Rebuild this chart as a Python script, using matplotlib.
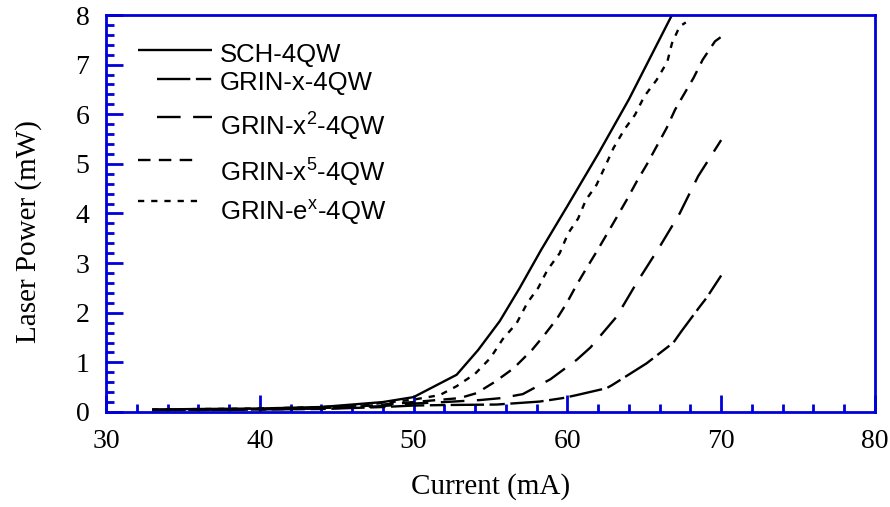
import matplotlib
matplotlib.use("Agg")
import matplotlib.pyplot as plt
from matplotlib.ticker import MultipleLocator

plt.rcParams["lines.scale_dashes"] = False
plt.rcParams["mathtext.fontset"] = "custom"
plt.rcParams["mathtext.rm"] = "Liberation Sans"
plt.rcParams["mathtext.default"] = "regular"

# Light–current characteristics (current in mA, power in mW)
sch_i = [33, 36, 40, 44, 46, 48, 50, 52.8, 54.2, 55.6, 56.9, 58.3, 60, 62, 64, 66.8]
sch_p = [0.05, 0.06, 0.07, 0.1, 0.15, 0.2, 0.3, 0.75, 1.25, 1.83, 2.5, 3.27, 4.15, 5.2, 6.3, 8.0]

grin_x_i = [33, 40, 44, 46, 48, 50, 52, 55.4, 58.2, 59.7, 60.6, 62.55, 62.9, 65.15, 66.9, 67.4, 68.6, 69.05, 70]
grin_x_p = [0.03, 0.05, 0.06, 0.08, 0.1, 0.13, 0.14, 0.15, 0.21, 0.28, 0.34, 0.48, 0.54, 0.98, 1.4, 1.62, 2.12, 2.3, 2.75]

grin_x2_i = [33, 40, 44, 46, 48, 50, 52, 54.3, 55.7, 57.1, 58.9, 60.6, 61.5, 63.2, 64.5, 66, 67.3, 68.5, 70]
grin_x2_p = [0.04, 0.05, 0.07, 0.09, 0.12, 0.17, 0.2, 0.24, 0.28, 0.36, 0.66, 1.05, 1.3, 1.92, 2.6, 3.33, 4.0, 4.75, 5.48]

grin_x5_i = [33, 40, 44, 46, 48, 50, 53, 54.1, 55.3, 56.5, 57.7, 58.5, 59.3, 59.95, 60.6, 61.25, 61.9,
             62.6, 63.2, 63.85, 64.5, 65.15, 65.8, 66.45, 67.0, 67.5, 68.2, 68.8, 69.6, 70]
grin_x5_p = [0.04, 0.06, 0.08, 0.1, 0.15, 0.2, 0.28, 0.38, 0.61, 0.88, 1.25, 1.55, 1.87, 2.19, 2.56, 2.9, 3.23,
             3.6, 3.92, 4.27, 4.64, 4.98, 5.35, 5.72, 6.09, 6.36, 6.73, 7.1, 7.47, 7.56]

grin_ex_i = [33, 40, 44, 46, 48, 50, 51.7, 52.8, 54, 55, 55.8, 56.7, 57.4, 58.1, 58.7, 59.5, 60.05, 60.7,
             61.2, 61.9, 62.5, 63, 63.7, 64.4, 65, 65.8, 66.5, 66.8, 67.3, 67.7]
grin_ex_p = [0.05, 0.07, 0.1, 0.13, 0.18, 0.25, 0.34, 0.52, 0.77, 1.09, 1.47, 1.79, 2.2, 2.5, 2.86, 3.2, 3.6, 3.9,
             4.27, 4.58, 4.98, 5.32, 5.69, 5.99, 6.36, 6.69, 7.06, 7.43, 7.77, 7.85]

labels = ["SCH-4QW", "GRIN-x-4QW", "GRIN-x$^2$-4QW", "GRIN-x$^5$-4QW", "GRIN-e$^x$-4QW"]
x_ticks = [30, 40, 50, 60, 70, 80]
y_ticks = [0, 1, 2, 3, 4, 5, 6, 7, 8]

# dash patterns in points
styles = [
    "-",
    (0, (24, 4, 11, 4)),
    (0, (17, 9)),
    (0, (9, 6)),
    (0, (4.5, 5)),
]
series = [(sch_i, sch_p), (grin_x_i, grin_x_p), (grin_x2_i, grin_x2_p),
          (grin_x5_i, grin_x5_p), (grin_ex_i, grin_ex_p)]

BLUE = "#0000d8"
fig = plt.figure(figsize=(8.9, 5.07), dpi=100)
ax = fig.add_axes([0.1191, 0.1874, 0.864, 0.783])

for (xi, yi), ls in zip(series, styles):
    ax.plot(xi, yi, color="black", lw=1.7, linestyle=ls, solid_capstyle="butt", dash_capstyle="butt")

ax.set_xlim(30, 80)
ax.set_ylim(0, 8)
ax.set_xticks(x_ticks)
ax.set_yticks(y_ticks)
ax.xaxis.set_minor_locator(MultipleLocator(2))
ax.yaxis.set_minor_locator(MultipleLocator(0.2))

for side in ax.spines.values():
    side.set_color(BLUE)
    side.set_linewidth(2)
ax.tick_params(which="both", direction="in", color=BLUE, width=2,
               top=False, right=False)
ax.tick_params(which="major", length=12, pad=12)
ax.tick_params(which="minor", length=6)
for lab in ax.get_xticklabels() + ax.get_yticklabels():
    lab.set_fontfamily("Liberation Serif")
    lab.set_fontsize(20)

ax.set_xlabel("Current (mA)", fontfamily="Liberation Serif", fontsize=21, labelpad=14)
ax.set_ylabel("Laser Power (mW)", fontfamily="Liberation Serif", fontsize=21)
ax.yaxis.set_label_coords(-0.083, 0.455)

# legend drawn in axes fraction coordinates
def fx(px):
    return (px - 106) / (875 - 106)

def fy(py):
    return (412 - py) / (412 - 15)

handle_spans = [(138, 212), (157, 212), (157, 212), (138, 200), (138, 200)]
handle_y = [50, 79, 117, 160, 201]
text_y = [55, 83, 127, 173, 213]
for lab, ls, (h0, h1), hy, ty in zip(labels, styles, handle_spans, handle_y, text_y):
    ax.plot([fx(h0), fx(h1)], [fy(hy), fy(hy)], transform=ax.transAxes, color="black",
            lw=1.7, linestyle=ls, solid_capstyle="butt", dash_capstyle="butt", clip_on=False)
    ax.text(fx(220), fy(ty), lab, transform=ax.transAxes, fontfamily="Liberation Sans",
            fontsize=18.5, va="center", ha="left")

fig.savefig("out.png", dpi=100)
